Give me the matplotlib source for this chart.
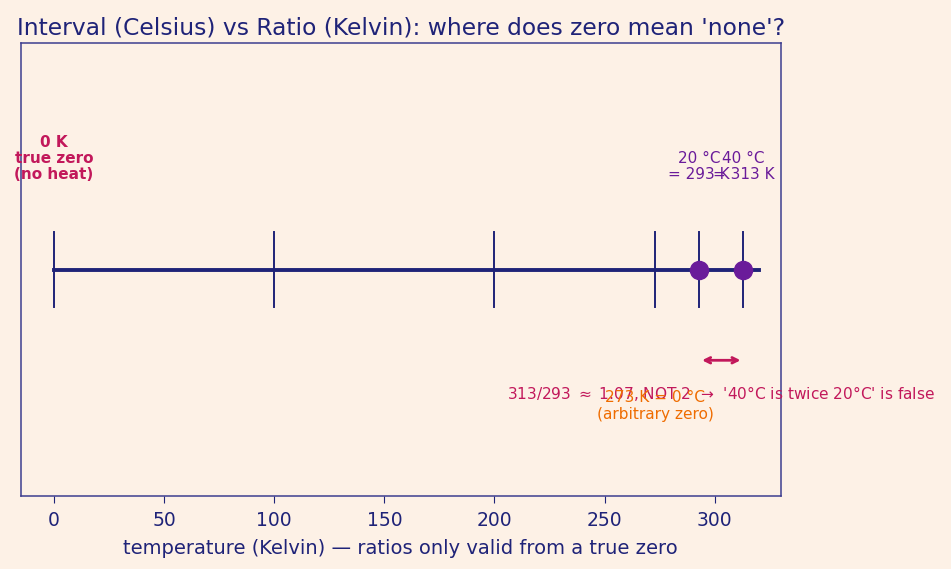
import matplotlib
matplotlib.use("Agg")
import matplotlib.pyplot as plt

# data
tick_k = [0, 100, 200, 273, 293, 313]
line_k = [0, 320]
points_k = [293, 313]
point_labels = ["20 °C\n= 293 K", "40 °C\n= 313 K"]
zero_label = "0 K\ntrue zero\n(no heat)"
ice_k = 273
ice_label = "273 K = 0 °C\n(arbitrary zero)"
ratio_text = "313/293 $\\approx$ 1.07, NOT 2  →  '40°C is twice 20°C' is false"

bg = "#fdf1e6"
navy = "#1f2378"
purple = "#6a1b9a"
crimson = "#c2185b"
orange = "#ef6c00"

fig, ax = plt.subplots(figsize=(9.51, 5.69), dpi=100)
fig.patch.set_facecolor(bg)
ax.set_facecolor(bg)

ax.plot(line_k, [0, 0], color=navy, lw=2.8, zorder=2)
for k in tick_k:
    ax.plot([k, k], [-0.25, 0.25], color=navy, lw=1.4, zorder=2)
ax.plot(points_k, [0] * len(points_k), "o", color=purple, ms=13, zorder=3)

ax.text(0, 0.58, zero_label, ha="center", va="bottom", color=crimson,
        fontsize=11, fontweight="bold", linespacing=1.1)
for k, lab in zip(points_k, point_labels):
    ax.text(k, 0.58, lab, ha="center", va="bottom", color=purple, fontsize=11,
            linespacing=1.1)

ax.annotate("", xy=(points_k[0], -0.6), xytext=(points_k[1], -0.6),
            arrowprops=dict(arrowstyle="<->", color=crimson, lw=2))
ax.text(sum(points_k) / 2, -0.82, ratio_text, ha="center", va="center",
        color=crimson, fontsize=11.1)
ax.text(ice_k, -0.8, ice_label, ha="center", va="top", color=orange,
        fontsize=11.1, linespacing=1.1)

ax.set_xlim(-15, 330)
ax.set_ylim(-1.5, 1.5)
ax.set_yticks([])
ax.set_xticks([0, 50, 100, 150, 200, 250, 300])
ax.tick_params(axis="x", colors=navy, labelsize=13.5, length=5, pad=6)
for s in ax.spines.values():
    s.set_color("#3d3d8f")
    s.set_linewidth(1.1)
ax.set_xlabel("temperature (Kelvin) — ratios only valid from a true zero",
              color=navy, fontsize=14, labelpad=6)
ax.set_title("Interval (Celsius) vs Ratio (Kelvin): where does zero mean 'none'?",
             color=navy, fontsize=16.8)

fig.subplots_adjust(left=0.022, right=0.821, top=0.924, bottom=0.128)
fig.savefig("out.png", dpi=100, facecolor=bg)
